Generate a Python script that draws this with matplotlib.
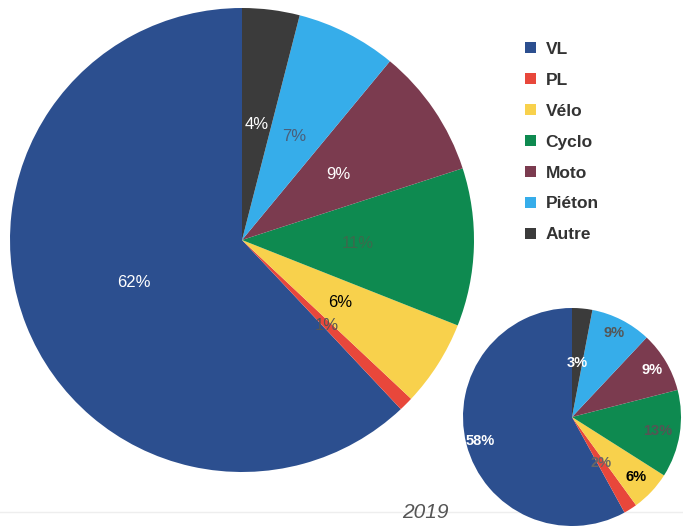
import matplotlib.pyplot as plt
import numpy as np

# Categories and shares (percent)
categories = ["VL", "PL", "Vélo", "Cyclo", "Moto", "Piéton", "Autre"]
colors = ["#2c4f8f", "#e8473b", "#f8d14c", "#0e8a50", "#7b3b4f", "#36adea", "#3b3b3b"]
values_main = [62, 1, 6, 11, 9, 7, 4]
values_2019 = [58, 2, 6, 13, 9, 9, 3]
year_label = "2019"

# label colors / positions (fraction of radius)
lab_col_main = ["white", "#555555", "black", "#3c6a4c", "white", "#4a5f7a", "white"]
lab_dist_main = [0.5, 0.52, 0.5, 0.5, 0.5, 0.5, 0.5]
lab_col_small = ["white", "#666666", "black", "#555555", "white", "#555555", "white"]
lab_dist_small = [0.87, 0.5, 0.8, 0.8, 0.85, 0.86, 0.5]

W, H = 683, 526
fig = plt.figure(figsize=(W / 100, H / 100), dpi=100)
ax = fig.add_axes([0, 0, 1, 1])
ax.set_xlim(0, W)
ax.set_ylim(0, H)
ax.set_aspect("equal")
ax.axis("off")

# faint scan line at bottom
ax.plot([0, W], [H - 512, H - 512], color="#eeeeee", lw=1, zorder=0)


def draw_pie(vals, center, radius, lab_cols, lab_dist, fs, weight):
    wedges, _ = ax.pie(vals, colors=colors, startangle=90, counterclock=True,
                       center=center, radius=radius, frame=True,
                       wedgeprops=dict(linewidth=0))
    for w, v, c, d in zip(wedges, vals, lab_cols, lab_dist):
        ang = np.deg2rad((w.theta1 + w.theta2) / 2)
        x = center[0] + d * radius * np.cos(ang)
        y = center[1] + d * radius * np.sin(ang)
        ax.text(x, y, f"{v}%", color=c, fontsize=fs, fontweight=weight,
                ha="center", va="center", family="Liberation Sans")
    return wedges


wedges = draw_pie(values_main, (242, H - 240), 232, lab_col_main, lab_dist_main, 12, "normal")
draw_pie(values_2019, (572, H - 417), 109, lab_col_small, lab_dist_small, 10.5, "bold")

ax.set_xlim(0, W)
ax.set_ylim(0, H)
ax.axis("off")

leg = ax.legend(wedges, categories, loc="upper left", bbox_to_anchor=(509 / W, 1 - 26 / H),
                frameon=False, handlelength=0.65, handleheight=0.65, handletextpad=0.55,
                labelspacing=0.92, prop=dict(family="Liberation Sans", weight="bold", size=12.5))
for t in leg.get_texts():
    t.set_color("#333333")

ax.text(425, H - 513, year_label, fontsize=15, style="italic", color="#555555",
        ha="center", va="center", family="Liberation Sans")

fig.savefig("out.png", dpi=100)
